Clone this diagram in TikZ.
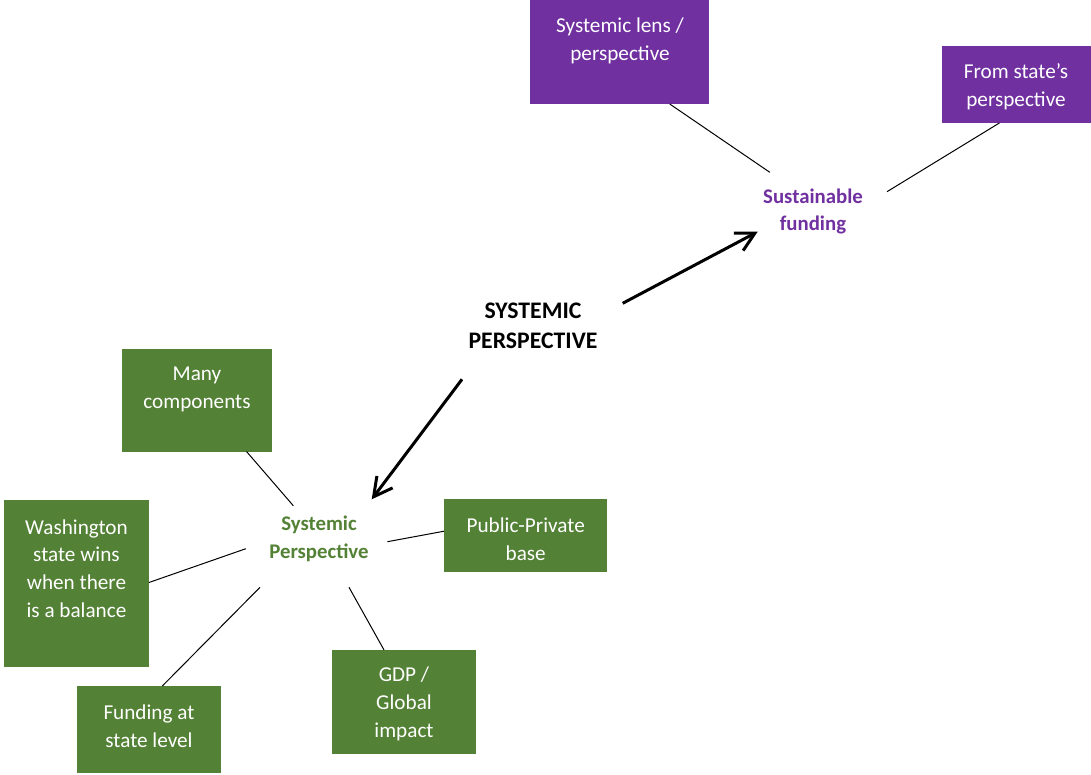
\documentclass[tikz,border=0pt]{standalone}
\usepackage{fontspec}
\setmainfont{Carlito}
\usetikzlibrary{arrows.meta,calc}
\definecolor{boxgreen}{HTML}{538135}
\definecolor{boxpurple}{HTML}{7030A0}

\begin{document}
\begin{tikzpicture}[x=0.75pt,y=-0.75pt,
  box/.style={rectangle, inner sep=0pt, outer sep=0pt},
  gbox/.style={box, fill=boxgreen},
  pbox/.style={box, fill=boxpurple},
  boxtext/.style={text=white, align=center, inner sep=0pt,
    font=\fontsize{15.9pt}{20.8pt}\selectfont},
  hubtext/.style={align=center, inner sep=0pt,
    font=\bfseries\fontsize{15.6pt}{20.6pt}\selectfont},
  maintext/.style={align=center, inner sep=0pt,
    font=\bfseries\fontsize{17.8pt}{22.5pt}\selectfont},
  link/.style={draw=black, line width=0.75pt},
  bigarrow/.style={line width=2.25pt, -{Straight Barb[length=13.9pt,width=14.8pt]}},
]
\useasboundingbox (0,0) rectangle (1091,774);

% central topic and the two hubs
\node[maintext] (sys) at (533,326) {SYSTEMIC\\PERSPECTIVE};
\node[hubtext, text=boxpurple] (sus) at (813,211.5) {Sustainable\\funding};
\node[hubtext, text=boxgreen] (spg) at (319,539) {Systemic\\Perspective};

% purple boxes
\node[pbox, minimum width=134.25pt, minimum height=78pt] (lens) at (619.5,52) {};
\node[boxtext] (lenst) at (620,41) {Systemic lens /\\perspective};
\node[pbox, minimum width=111.75pt, minimum height=57.75pt] (state) at (1016.5,84.5) {};
\node[boxtext] (statet) at (1016,86.5) {From state’s\\perspective};

% green boxes
\node[gbox, minimum width=112.5pt, minimum height=76.9pt] (many) at (197,400.25) {};
\node[boxtext] (manyt) at (197,389.5) {Many\\components};
\node[gbox, minimum width=108.75pt, minimum height=125.6pt] (wash) at (76.5,583.75) {};
\node[boxtext] (washt) at (76.5,568.5) {Washington\\state wins\\when there\\is a balance};
\node[gbox, minimum width=108pt, minimum height=65.25pt] (fund) at (149,729.5) {};
\node[boxtext] (fundt) at (149,726.5) {Funding at\\state level};
\node[gbox, minimum width=108pt, minimum height=78pt] (gdp) at (404,702) {};
\node[boxtext] (gdpt) at (404,704) {GDP /\\Global\\impact};
\node[gbox, minimum width=122.6pt, minimum height=54.75pt] (pub) at (525.75,535.5) {};
\node[boxtext] (pubt) at (525.7,539.5) {Public-Private\\base};

% ends of the connectors next to the hub labels
\coordinate (e1) at (769.8,172.3);
\coordinate (e2) at (887,191.7);
\coordinate (e3) at (293.3,505.7);
\coordinate (e4) at (245.8,548.7);
\coordinate (e5) at (260,587.3);
\coordinate (e6) at (349,587.3);
\coordinate (e7) at (387.4,541.7);

\draw[link] (lens.-46.6) -- (e1);
\draw[link] (state.-114.4) -- (e2);
\draw[link] (many.-46.9) -- (e3);
\draw[link] (wash.1.1) -- (e4);
\draw[link] (fund.73.4) -- (e5);
\draw[link] (gdp.111.6) -- (e6);
\draw[link] (pub.177.3) -- (e7);

% thick arrows from the central topic
\coordinate (a1s) at (622.7,303.3);
\coordinate (a1e) at (757.7,231.7);
\coordinate (a2s) at (462,379.3);
\coordinate (a2e) at (371.7,499.3);
\draw[bigarrow] (a1s) -- (a1e);
\draw[bigarrow] (a2s) -- (a2e);
\end{tikzpicture}
\end{document}
